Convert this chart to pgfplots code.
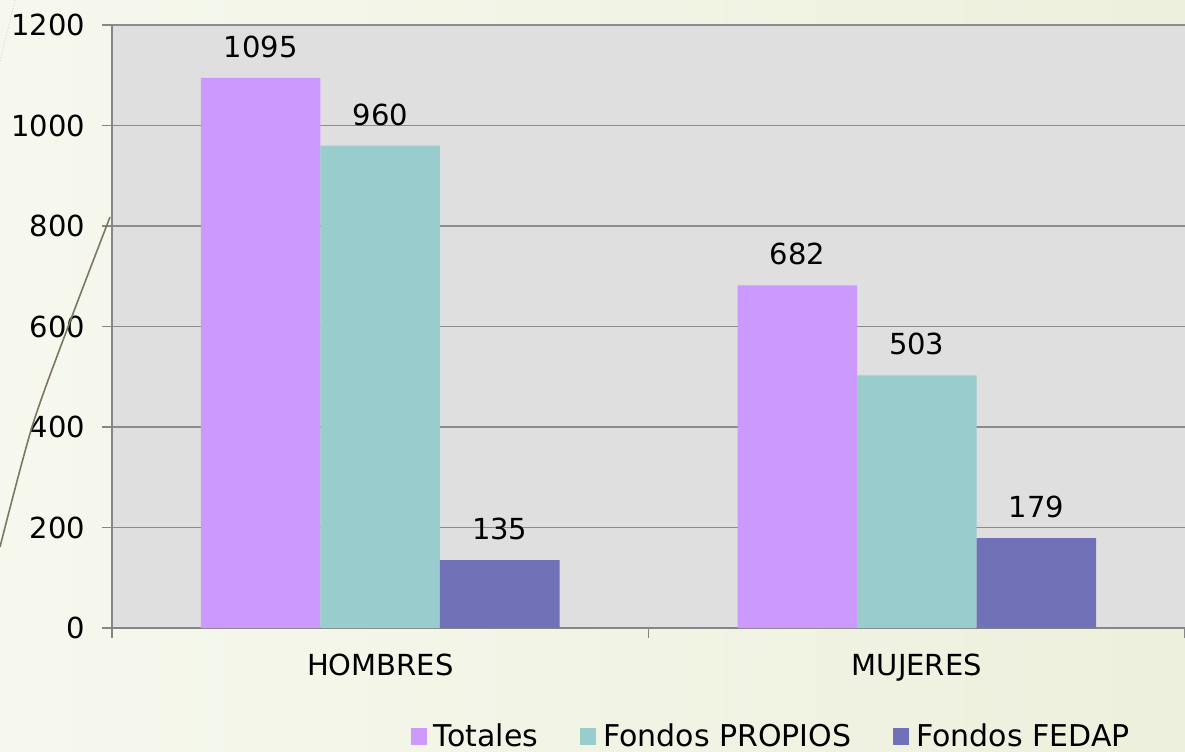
\documentclass[border=0pt]{standalone}
\usepackage{fontspec}
\setmainfont{DejaVu Sans}
\usepackage{pgfplots}
\pgfplotsset{compat=1.18}
\usetikzlibrary{backgrounds}
\definecolor{cTot}{HTML}{CC99FF}
\definecolor{cProp}{HTML}{99CCCC}
\definecolor{cFed}{HTML}{7171B8}
\definecolor{plotbg}{HTML}{DFDFDF}
\definecolor{gridc}{HTML}{8C8C8C}
\definecolor{axisc}{HTML}{868686}
\definecolor{decoc}{HTML}{7D7760}
\begin{document}
\begin{tikzpicture}
\begin{axis}[
  at={(56pt,-314pt)}, anchor=south west,
  scale only axis, width=536.5pt, height=301.5pt,
  ybar=0pt, bar width=59.75pt,
  xmin=-0.5, xmax=1.5, ymin=0, ymax=1200,
  xtick={0,1}, xticklabels={HOMBRES,MUJERES},
  ytick={0,200,...,1200},
  extra x ticks={-0.5,0.5,1.5}, extra x tick labels={},
  extra x tick style={xtick style={draw=axisc, line width=0.6pt}, major tick length=5pt, grid=none},
  xtick style={draw=none},
  ytick style={draw=axisc, line width=0.6pt},
  tick align=outside, major tick length=5pt,
  axis x line*=bottom, axis y line*=left,
  axis line style={draw=axisc, line width=1.1pt},
  ymajorgrids, major grid style={draw=gridc, line width=0.6pt},
  axis background/.style={fill=plotbg},
  tick label style={font=\fontsize{14.5pt}{17pt}\selectfont},
  yticklabel style={xshift=-5pt},
  xticklabel style={yshift=-4.5pt},
  /pgf/number format/assume math mode=true,
  /pgf/number format/1000 sep={},
  nodes near coords,
  nodes near coords style={font=\fontsize{14.5pt}{17pt}\selectfont, black, anchor=south, yshift=6.5pt},
  every node near coord/.append style={/pgf/number format/assume math mode=true},
  legend style={at={(0.6155,-0.180)}, anchor=center, draw=none, fill=none,
    font=\fontsize{15pt}{18pt}\selectfont,
    legend columns=3,
    /tikz/every odd column/.append style={column sep=1.5pt},
    /tikz/every even column/.append style={column sep=19pt}},
  legend image code/.code={\fill[#1] (0pt,-4.25pt) rectangle (8pt,4.25pt);},
]
\addplot[fill=cTot, draw=none] coordinates {(0,1095) (1,682)};
\addplot[fill=cProp, draw=none] coordinates {(0,960) (1,503)};
\addplot[fill=cFed, draw=none] coordinates {(0,135) (1,179)};
\legend{Totales, Fondos PROPIOS, Fondos FEDAP}
\end{axis}
\draw[decoc, line width=0.8pt] plot[smooth] coordinates {(55pt,-108.5pt) (34pt,-163.5pt) (16pt,-213.5pt) (0pt,-273.5pt)};
\draw[gray!40, line width=0.4pt, densely dotted] (7.5pt,0pt) -- (0pt,-31pt);
\begin{scope}[on background layer]
\shade[left color={rgb,255:red,246;green,248;blue,238}, right color={rgb,255:red,237;green,240;blue,220}] (0pt,0pt) rectangle (592.5pt,-375.5pt);
\end{scope}
\pgfresetboundingbox
\path[use as bounding box] (0pt,0pt) rectangle (592.5pt,-375.5pt);
\end{tikzpicture}
\end{document}
